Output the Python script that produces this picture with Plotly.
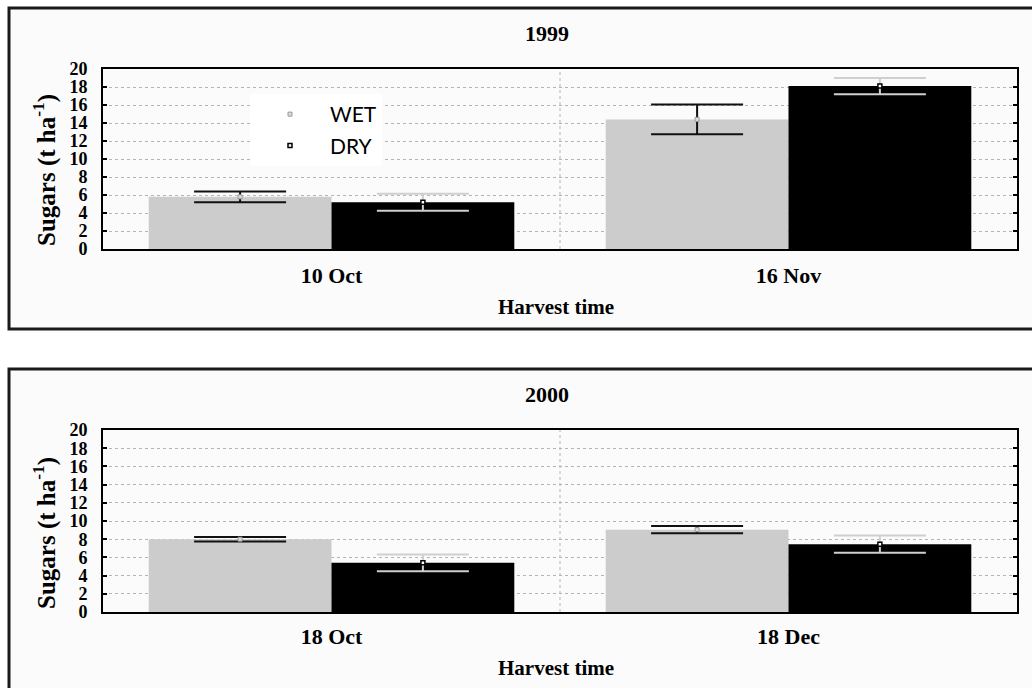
import plotly.graph_objects as go

# ---- data ----
years = ["1999", "2000"]
harvest_1999 = ["10 Oct", "16 Nov"]
harvest_2000 = ["18 Oct", "18 Dec"]
wet_1999 = [5.8, 14.4]
wet_1999_err = [0.6, 1.65]
dry_1999 = [5.2, 18.1]
dry_1999_err = [0.95, 0.9]
wet_2000 = [8.0, 9.05]
wet_2000_err = [0.25, 0.4]
dry_2000 = [5.4, 7.45]
dry_2000_err = [0.93, 0.95]
y_ticks = list(range(0, 21, 2))

W, H = 1032, 688
def px_x(v):
    return v / W
def px_y(v):
    return 1 - v / H

SERIF = "Liberation Serif"
SANS = "Lato"
WET_COL = "#cccccc"
DRY_COL = "#000000"

fig = go.Figure()

panels = [
    (harvest_1999, wet_1999, wet_1999_err, dry_1999, dry_1999_err, "x", "y", True),
    (harvest_2000, wet_2000, wet_2000_err, dry_2000, dry_2000_err, "x2", "y2", False),
]
bw = 0.4
for cats, wv, we, dv, de, xa, ya, leg in panels:
    idx = list(range(len(cats)))
    xw = [i - bw / 2 for i in idx]
    xd = [i + bw / 2 for i in idx]
    fig.add_trace(go.Bar(x=xw, y=wv, width=bw, marker=dict(color=WET_COL, line=dict(width=0)),
                         error_y=dict(type="data", array=we, color="#111111", thickness=2, width=46),
                         xaxis=xa, yaxis=ya, showlegend=False, hoverinfo="skip"))
    fig.add_trace(go.Bar(x=xd, y=dv, width=bw, marker=dict(color=DRY_COL, line=dict(width=0)),
                         error_y=dict(type="data", array=de, color="#cfcfcf", thickness=2, width=46),
                         xaxis=xa, yaxis=ya, showlegend=False, hoverinfo="skip"))
    fig.add_trace(go.Scatter(x=xw, y=wv, mode="markers", name="WET",
                             marker=dict(symbol="square", size=4, color="#dddddd",
                                         line=dict(color="#999999", width=1)),
                             xaxis=xa, yaxis=ya, showlegend=leg, legendgroup="wet"))
    fig.add_trace(go.Scatter(x=xd, y=dv, mode="markers", name="DRY",
                             marker=dict(symbol="square", size=4, color="#ffffff",
                                         line=dict(color="#000000", width=1.5)),
                             xaxis=xa, yaxis=ya, showlegend=leg, legendgroup="dry"))

x_dom = [px_x(103), px_x(1017)]
dom_top = [px_y(249), px_y(69)]
dom_bot = [px_y(612), px_y(430)]

def xaxis_cfg(cats, anchor, standoff):
    return dict(domain=x_dom, anchor=anchor, range=[-0.5, len(cats) - 0.5],
                tickvals=list(range(len(cats))), ticktext=cats, ticks="",
                showgrid=False, zeroline=False, showline=True, mirror=True,
                linecolor="black", linewidth=2, automargin=False,
                tickfont=dict(family=SERIF, size=22, color="black", weight="bold"),
                ticklabelstandoff=standoff)

def yaxis_cfg(dom, anchor):
    return dict(domain=dom, anchor=anchor, range=[0, 20], tickvals=y_ticks,
                ticks="inside", ticklen=4, tickwidth=2, tickcolor="black",
                showline=True, mirror="ticks", linecolor="black", linewidth=2,
                showgrid=True, gridcolor="#b4b4b4", griddash="dot", gridwidth=1,
                zeroline=False, automargin=False,
                tickfont=dict(family=SERIF, size=18, color="black", weight="bold"),
                ticklabelstandoff=10)

shapes = []
# outer panel boxes
shapes.append(dict(type="rect", xref="paper", yref="paper", x0=px_x(9), x1=px_x(1045),
                   y0=px_y(329), y1=px_y(8), line=dict(color="#1a1a1a", width=3),
                   fillcolor="#fbfbfb", layer="below"))
shapes.append(dict(type="rect", xref="paper", yref="paper", x0=px_x(9), x1=px_x(1045),
                   y0=px_y(369), y1=px_y(720), line=dict(color="#1a1a1a", width=3),
                   fillcolor="#fbfbfb", layer="below"))
# category separator gridlines
for xa, ya in [("x", "y"), ("x2", "y2")]:
    shapes.append(dict(type="line", xref=xa, yref=ya + " domain", x0=0.5, x1=0.5, y0=0, y1=1,
                       line=dict(color="#b4b4b4", width=1, dash="dot"), layer="below"))

annotations = []
for yr, ty, xl_y, mid in [(years[0], 34, 307, 170), (years[1], 394, 668, 533)]:
    annotations.append(dict(text="<b>%s</b>" % yr, xref="paper", yref="paper", x=px_x(547), y=px_y(ty),
                            xanchor="center", yanchor="middle", showarrow=False,
                            font=dict(family=SERIF, size=22, color="black")))
    annotations.append(dict(text="<b>Harvest time</b>", xref="paper", yref="paper", x=px_x(556), y=px_y(xl_y),
                            xanchor="center", yanchor="middle", showarrow=False,
                            font=dict(family=SERIF, size=21, color="black")))
    annotations.append(dict(text="<b>Sugars (t ha<sup>-1</sup>)</b>", xref="paper", yref="paper",
                            x=px_x(44), y=px_y(mid), textangle=-90, showarrow=False,
                            xanchor="center", yanchor="middle",
                            font=dict(family=SERIF, size=25, color="black")))

fig.update_layout(
    width=W, height=H, margin=dict(l=0, r=0, t=0, b=0, autoexpand=False),
    paper_bgcolor="white", plot_bgcolor="white",
    barmode="overlay",
    xaxis=xaxis_cfg(harvest_1999, "y", 6),
    yaxis=yaxis_cfg(dom_top, "x"),
    xaxis2=xaxis_cfg(harvest_2000, "y2", 4),
    yaxis2=yaxis_cfg(dom_bot, "x2"),
    shapes=shapes, annotations=annotations,
    legend=dict(x=px_x(250), y=px_y(94), xanchor="left", yanchor="top",
                bgcolor="white", borderwidth=0, tracegroupgap=1, itemwidth=70,
                font=dict(family=SANS, size=21, color="black"), traceorder="grouped"),
    showlegend=True,
)

fig.write_html("out.html")
